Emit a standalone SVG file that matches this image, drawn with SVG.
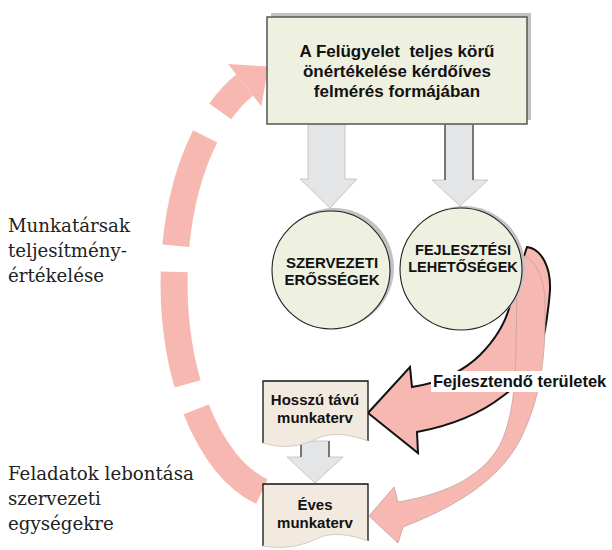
<svg xmlns="http://www.w3.org/2000/svg" width="612" height="550" viewBox="0 0 612 550">
<style>
.bold{font-family:"Liberation Sans",Arial,sans-serif;font-weight:bold;fill:#111;text-anchor:middle}
.serif{font-family:"DejaVu Serif","Liberation Serif",serif;font-size:18.2px;fill:#222}
.arc{fill:none;stroke:#f7b8b2;stroke-width:27}
.pink{fill:#f7b8b2}
.gray{fill:#e3e5e6;stroke:#bdbdbd;stroke-width:0.8}
.circ{fill:#eef0e0;stroke:#222;stroke-width:1.1}
.shadow{fill:#c2c2c2}
.doc{fill:#f3eadf}
.edge{fill:none;stroke:#111;stroke-width:1.3}
.soft{fill:none;stroke:#d3ccc4;stroke-width:1}
</style>
<rect width="612" height="550" fill="#fff"/>

<g id="connectors">
  <!-- big dashed cycle arrow on the left -->
  <path class="arc" d="M261.9,491.6 A116 215 0 0 1 196.2,409.4"/>
  <path class="arc" d="M187.6,383.9 A116 215 0 0 1 174.2,271.8"/>
  <path class="arc" d="M175.8,245.7 A116 215 0 0 1 205.2,136.4"/>
  <path class="arc" d="M220.2,111.3 A116 215 0 0 1 244.7,85.1"/>
  <polygon class="pink" points="228,63.9 268.3,66.6 261.4,106.3"/>

  <!-- grey down arrows from top box -->
  <polygon class="gray" points="308,124 345,124 345,179 357,179 330,208 300,179 308,179"/>
  <polygon class="gray" points="445,124 473,124 473,180 488,180 460,206 432,180 445,180"/>
  <line x1="445" y1="125" x2="445" y2="180" stroke="#111" stroke-width="1"/>
  <line x1="473" y1="125" x2="473" y2="180" stroke="#111" stroke-width="1"/>

  <!-- grey arrow between plans -->
  <polygon class="gray" points="301,441 329,441 329,457 343,457 315,483 287,457 301,457"/>
  <line x1="301" y1="441" x2="301" y2="457" stroke="#111" stroke-width="1"/>
  <line x1="329" y1="441" x2="329" y2="457" stroke="#111" stroke-width="1"/>

  <!-- curved arrow A (outlined) to Hosszú távú munkaterv -->
  <path class="pink" stroke="#111" stroke-width="2" stroke-linejoin="miter" d="M520,268 L527,247 C542,249 551,268 550,290 C549,305 547,318 545,330 C540,355 528,378 503,396 C485,410 460,424 417,432 L418,453 L368,413 L410,367 L412,387 C440,383 465,370 480,355 C495,340 505,325 510,305 L505,285 Z"/>
  <!-- curved arrow B to Éves munkaterv -->
  <path class="pink" stroke="#c4a29d" stroke-width="0.8" d="M515,275 L524,256 C537,262 545,280 545,305 C546,360 540,400 520,440 C500,478 460,505 403,527 L398,543 L369,516 L394,487 L398,502 C440,495 480,480 500,445 C512,420 515,390 516,350 L517,290 Z"/>
</g>

<g id="node-top">
  <rect class="shadow" x="271" y="13" width="260" height="107"/>
  <rect x="267" y="17" width="260" height="107" fill="#eef0e0" stroke="#555" stroke-width="1.5"/>
  <text class="bold" font-size="17" x="397" y="57" style="white-space:pre">A Felügyelet  teljes körű</text>
  <text class="bold" font-size="17" x="397" y="77">önértékelése kérdőíves</text>
  <text class="bold" font-size="17" x="397" y="97">felmérés formájában</text>
</g>

<g id="node-szervezeti">
  <circle class="shadow" cx="334" cy="268" r="60"/>
  <circle class="circ" cx="331" cy="270" r="59"/>
  <text class="bold" font-size="15" x="332" y="268">SZERVEZETI</text>
  <text class="bold" font-size="15" x="332" y="285">ERŐSSÉGEK</text>
</g>

<g id="node-fejlesztesi">
  <circle class="shadow" cx="464" cy="267" r="61"/>
  <circle class="circ" cx="461" cy="269" r="61"/>
  <text class="bold" font-size="14.5" x="463" y="255">FEJLESZTÉSI</text>
  <text class="bold" font-size="14.5" x="463" y="272">LEHETŐSÉGEK</text>
</g>

<g id="node-hosszu">
  <path class="doc" d="M263,381 H368 V441 C350,434 331,432 318,438 C305,445 285,450 263,443 Z"/>
  <path class="edge" d="M263,443 V381 H368 V441"/>
  <path class="soft" d="M368,441 C350,434 331,432 318,438 C305,445 285,450 263,443"/>
  <text class="bold" font-size="15" x="315" y="405">Hosszú távú</text>
  <text class="bold" font-size="15" x="315" y="423">munkaterv</text>
</g>

<g id="node-eves">
  <path class="doc" d="M263,484 H368 V541 C350,534 331,532 318,538 C305,545 285,550 263,546 Z"/>
  <path class="edge" d="M263,546 V484 H368 V541"/>
  <path class="soft" d="M368,541 C350,534 331,532 318,538 C305,545 285,550 263,546"/>
  <text class="bold" font-size="15" x="315" y="510">Éves</text>
  <text class="bold" font-size="15" x="315" y="528">munkaterv</text>
</g>

<g id="label-fejlesztendo">
  <rect x="431" y="371" width="181" height="21" fill="#fff"/>
  <text class="bold" font-size="16.5" x="433" y="387" style="text-anchor:start">Fejlesztendő területek</text>
</g>

<g id="side-labels">
  <text class="serif" x="8" y="232">Munkatársak</text>
  <text class="serif" x="8" y="257">teljesítmény-</text>
  <text class="serif" x="8" y="282">értékelése</text>
  <text class="serif" x="8" y="480">Feladatok lebontása</text>
  <text class="serif" x="8" y="505">szervezeti</text>
  <text class="serif" x="8" y="530">egységekre</text>
</g>
</svg>
